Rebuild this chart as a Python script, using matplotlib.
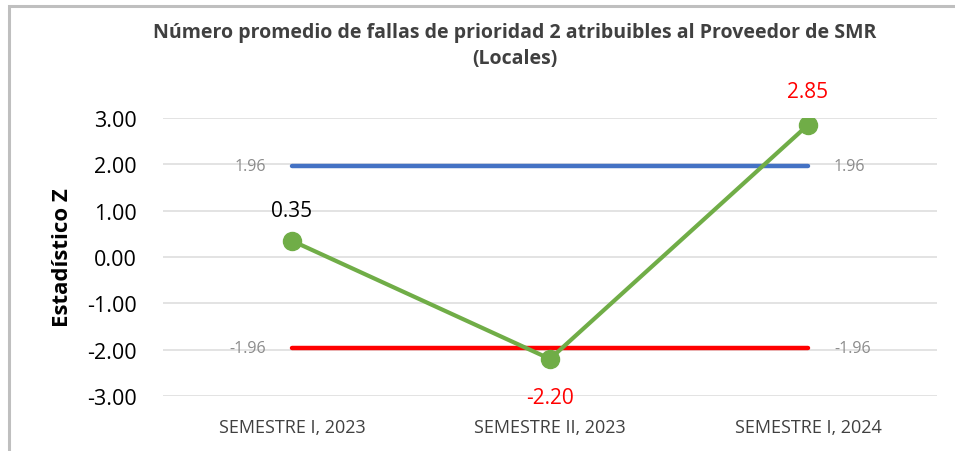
import matplotlib.pyplot as plt
from matplotlib.patches import Rectangle

plt.rcParams['font.family'] = ['Open Sans', 'DejaVu Sans']

categories = ['SEMESTRE I, 2023', 'SEMESTRE II, 2023', 'SEMESTRE I, 2024']
z_values = [0.35, -2.20, 2.85]
upper_limit = [1.96, 1.96, 1.96]
lower_limit = [-1.96, -1.96, -1.96]
label_colors = ['black', 'red', 'red']

W, H = 955, 452
fig = plt.figure(figsize=(W / 100, H / 100), dpi=100)

# marco gris del grafico
fig.patches.append(Rectangle((9 / W, -0.1), 1.2, 1 - 7 / H + 0.1, transform=fig.transFigure,
                             fill=False, edgecolor='#bfbfbf', linewidth=2.2))

ax = fig.add_axes([163 / W, 1 - 397 / H, (937 - 163) / W, (397 - 119) / H])
x = range(len(categories))

ax.plot(x, upper_limit, color='#4472c4', linewidth=3.2, solid_capstyle='round', zorder=2)
ax.plot(x, lower_limit, color='#ff0000', linewidth=3.2, solid_capstyle='round', zorder=2)
ax.plot(x, z_values, color='#70ad47', linewidth=3, marker='o', markersize=13, zorder=3)

ax.set_xlim(-0.5, 2.5)
ax.set_ylim(-3, 3)
ax.set_yticks([3, 2, 1, 0, -1, -2, -3])
ax.set_yticklabels(['%.2f' % v for v in [3, 2, 1, 0, -1, -2, -3]], fontsize=15.5, color='black')
ax.set_xticks(list(x))
ax.set_xticklabels(categories, fontsize=13, color='#404040')
ax.tick_params(length=0, axis='y', pad=19)
ax.tick_params(length=0, axis='x', pad=16)
ax.grid(axis='y', color='#e0e0e0', linewidth=1.3)
ax.set_axisbelow(True)
for s in ax.spines.values():
    s.set_visible(False)

ax.set_ylabel('Estadístico Z', fontsize=16, fontweight='bold', labelpad=10)

# etiquetas de datos
offsets = [22, -28, 24]
for i, v in enumerate(z_values):
    ax.annotate('%.2f' % v, (i, v), xytext=(0, offsets[i]), textcoords='offset points',
                ha='center', va='center', fontsize=15, color=label_colors[i], clip_on=False)

ax.annotate('%.2f' % upper_limit[0], (0, upper_limit[0]), xytext=(-30, 0), textcoords='offset points',
            ha='center', va='center', fontsize=11.5, color='#8c8c8c', zorder=1)
ax.annotate('%.2f' % upper_limit[-1], (2, upper_limit[-1]), xytext=(30, 0), textcoords='offset points',
            ha='center', va='center', fontsize=11.5, color='#8c8c8c', zorder=1)
ax.annotate('%.2f' % lower_limit[0], (0, lower_limit[0]), xytext=(-32, 0), textcoords='offset points',
            ha='center', va='center', fontsize=11.5, color='#8c8c8c', zorder=1)
ax.annotate('%.2f' % lower_limit[-1], (2, lower_limit[-1]), xytext=(32, 0), textcoords='offset points',
            ha='center', va='center', fontsize=11.5, color='#8c8c8c', zorder=1)

fig.text(515 / W, 1 - 46 / H,
         'Número promedio de fallas de prioridad 2 atribuibles al Proveedor de SMR\n(Locales)',
         ha='center', va='center', fontsize=14, fontweight='bold', color='#404040', linespacing=1.45)

fig.savefig('out.png', dpi=100)
